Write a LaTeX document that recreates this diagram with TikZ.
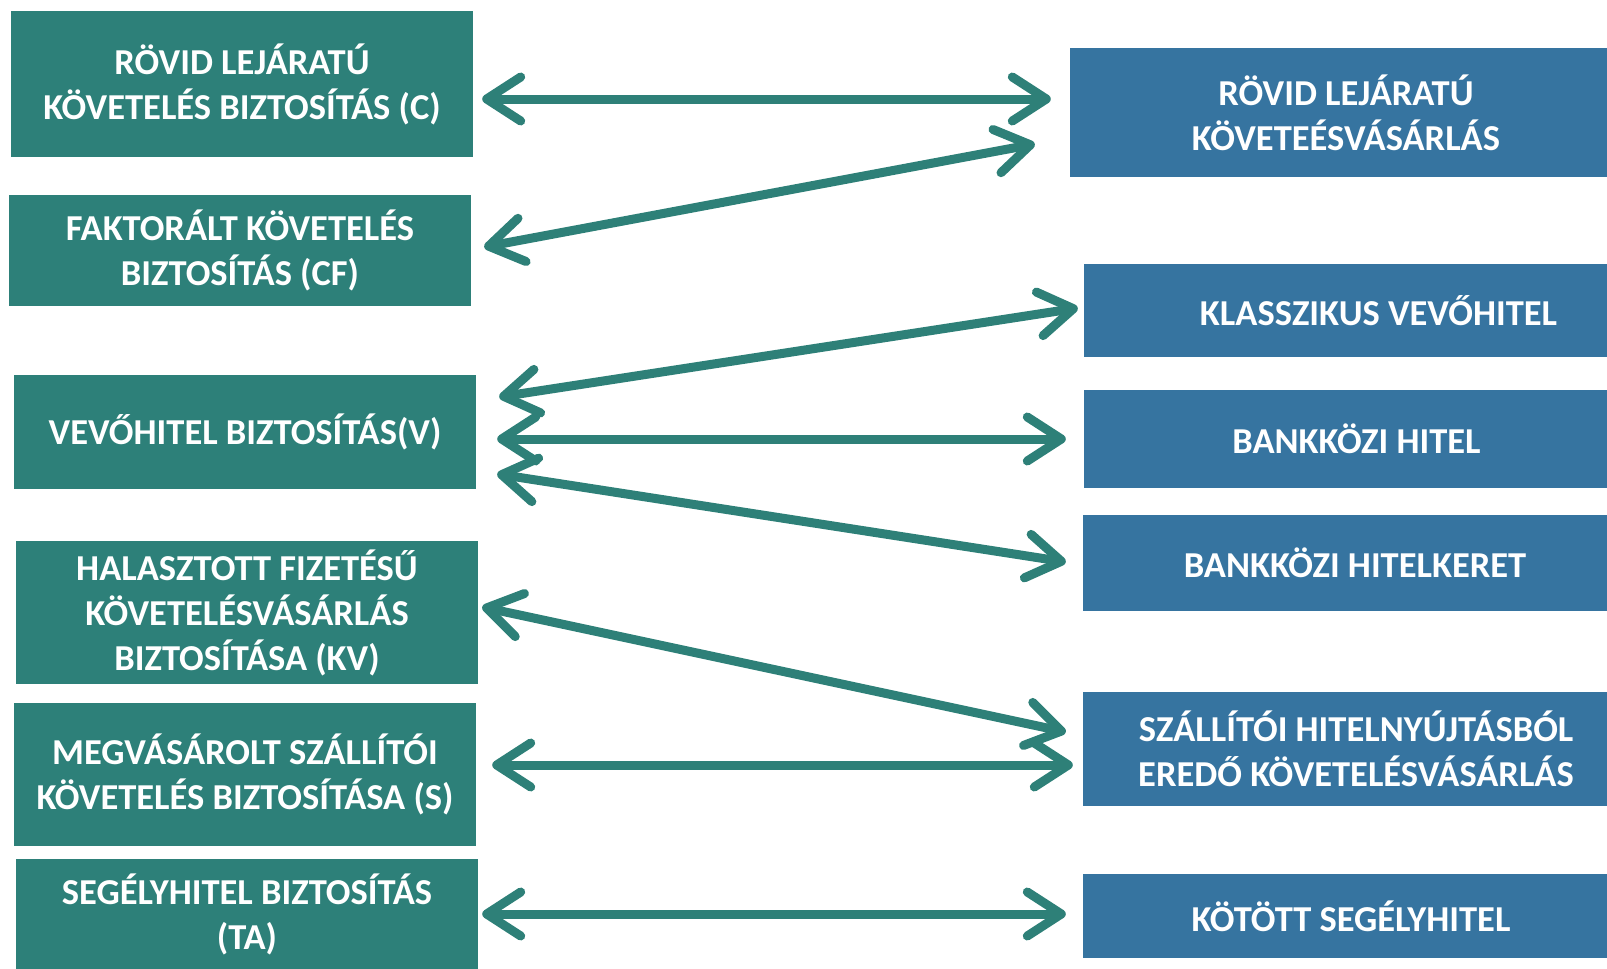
\documentclass[tikz,border=0pt]{standalone}
\usepackage{fontspec}
\setmainfont{Carlito}
\usetikzlibrary{arrows.meta}
\definecolor{teal1}{HTML}{2D8079}
\definecolor{blue1}{HTML}{3674A0}
\definecolor{arrc}{HTML}{2E8078}
\tikzset{
  box/.style={draw=none,inner sep=0pt,align=center,text=white,
    font=\fontsize{36.5}{45}\selectfont\bfseries},
  lbox/.style={box,fill=teal1,minimum width=462pt},
  rbox/.style={box,fill=blue1},
  arr/.style={draw=arrc,line width=9pt,
    {Straight Barb[length=34pt,width=44pt,line width=9pt,round]}-{Straight Barb[length=34pt,width=44pt,line width=9pt,round]}}
}
\begin{document}
\begin{tikzpicture}[x=1pt,y=-1pt]
\useasboundingbox (0,0) rectangle (1607,969);
% left boxes
\node[lbox,minimum height=146pt] (C) at (242,84) {RÖVID LEJÁRATÚ\\KÖVETELÉS BIZTOSÍTÁS (C)};
\node[lbox,minimum height=111pt] (CF) at (240,250.5) {FAKTORÁLT KÖVETELÉS\\BIZTOSÍTÁS (CF)};
\node[lbox,minimum height=114pt] (V) at (245,432) {VEVŐHITEL BIZTOSÍTÁS(V)};
\node[lbox,minimum height=143pt] (KV) at (247,612.5) {HALASZTOTT FIZETÉSŰ\\KÖVETELÉSVÁSÁRLÁS\\BIZTOSÍTÁSA (KV)};
\node[lbox,minimum height=143pt] (S) at (245,774.5) {MEGVÁSÁROLT SZÁLLÍTÓI\\KÖVETELÉS BIZTOSÍTÁSA (S)};
\node[lbox,minimum height=110pt] (TA) at (247,914) {SEGÉLYHITEL BIZTOSÍTÁS\\(TA)};
% right boxes
\node[rbox,minimum width=537pt,minimum height=129pt] (R1) at (1338.5,112.5) {\hspace*{15pt}RÖVID LEJÁRATÚ\\\hspace*{15pt}KÖVETEÉSVÁSÁRLÁS};
\node[rbox,minimum width=523pt,minimum height=93pt] (R2) at (1345.5,310.5) {\hspace*{66pt}KLASSZIKUS VEVŐHITEL};
\node[rbox,minimum width=523pt,minimum height=98pt] (R3) at (1345.5,439) {\hspace*{22pt}BANKKÖZI HITEL};
\node[rbox,minimum width=524pt,minimum height=96pt] (R4) at (1345,563) {\hspace*{20pt}BANKKÖZI HITELKERET};
\node[rbox,minimum width=524pt,minimum height=114pt] (R5) at (1345,749) {\hspace*{22pt}SZÁLLÍTÓI HITELNYÚJTÁSBÓL\\\hspace*{22pt}EREDŐ KÖVETELÉSVÁSÁRLÁS};
\node[rbox,minimum width=524pt,minimum height=84pt] (R6) at (1345,916) {\hspace*{12pt}KÖTÖTT SEGÉLYHITEL};
% arrows
\draw[arr] ([xshift=9pt,yshift=-15pt]C.east) -- ([xshift=-19pt,yshift=13.5pt]R1.west);
\draw[arr] ([xshift=13pt,yshift=3.5pt]CF.east) -- ([xshift=-35pt,yshift=-31.5pt]R1.west);
\draw[arr] ([xshift=23pt,yshift=35pt]V.east) -- ([xshift=-6pt,yshift=2.5pt]R2.west);
\draw[arr] ([xshift=21pt,yshift=-7pt]V.east) -- ([xshift=-18pt]R3.west);
\draw[arr] ([xshift=21pt,yshift=-42pt]V.east) -- ([xshift=-17pt,yshift=1pt]R4.west);
\draw[arr] ([xshift=4pt,yshift=5.5pt]KV.east) -- ([xshift=-17pt,yshift=17pt]R5.west);
\draw[arr] ([xshift=16pt,yshift=9.5pt]S.east) -- ([xshift=-10pt,yshift=-16pt]R5.west);
\draw[arr] ([xshift=4pt]TA.east) -- ([xshift=-17pt,yshift=2pt]R6.west);
\end{tikzpicture}
\end{document}
